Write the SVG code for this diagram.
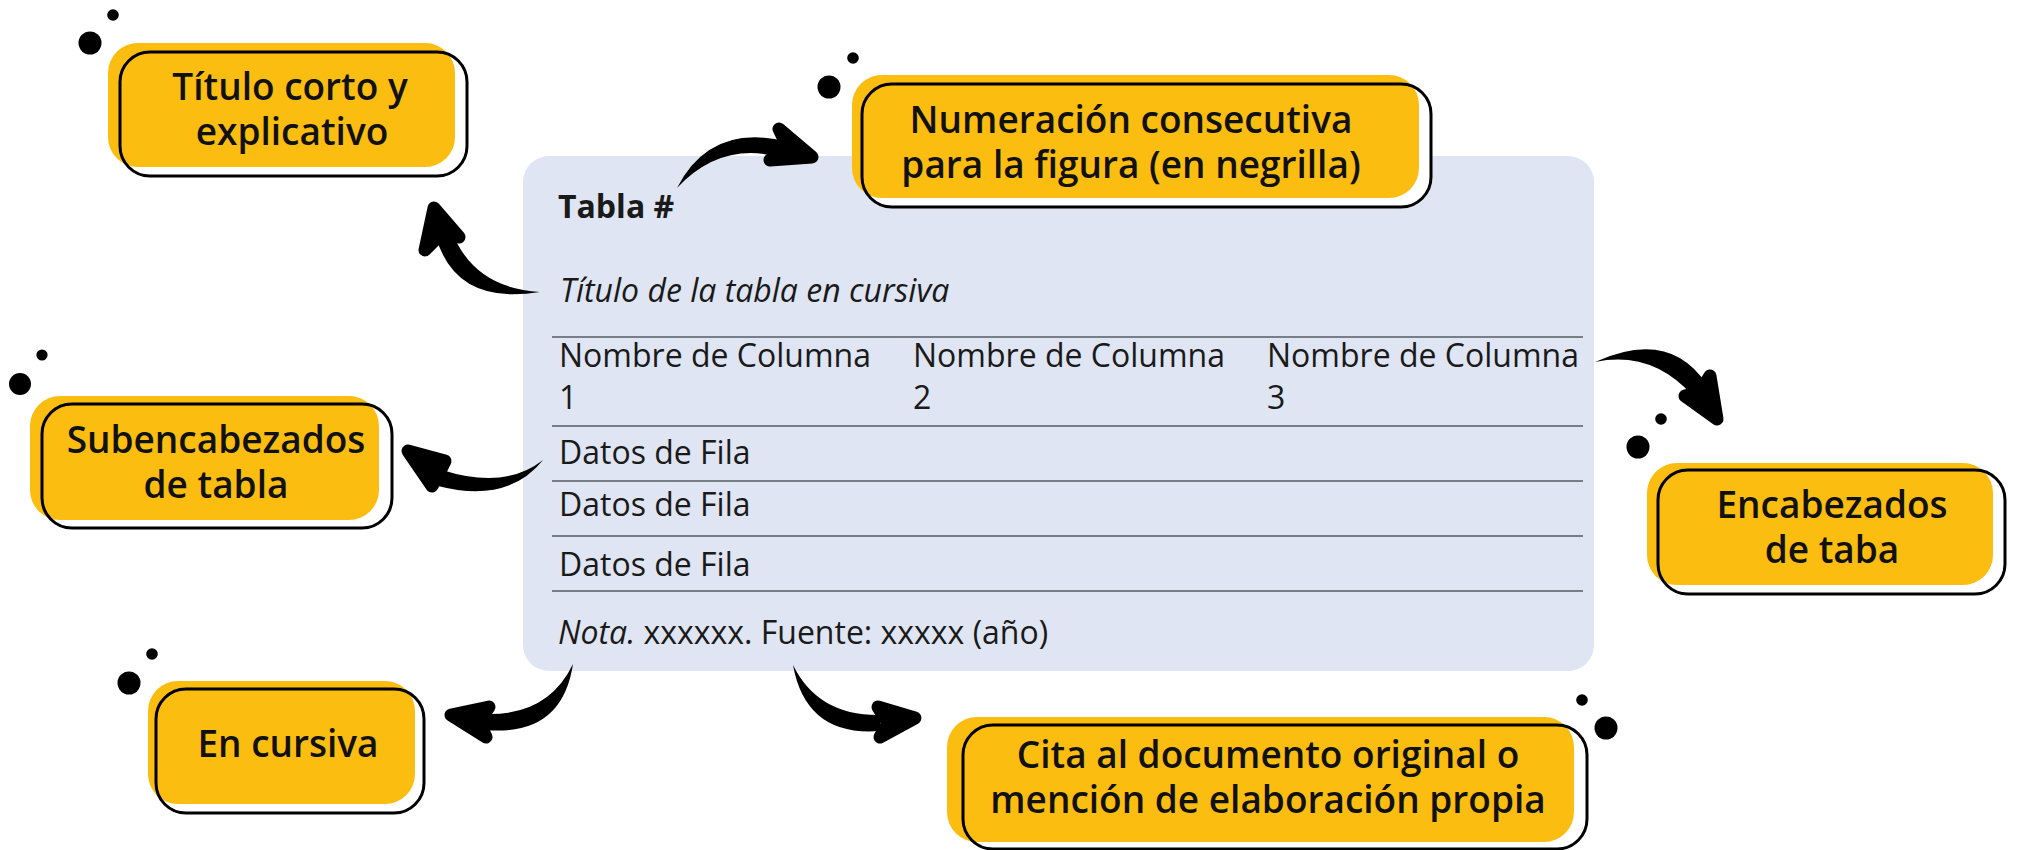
<svg xmlns="http://www.w3.org/2000/svg" width="2021" height="850" viewBox="0 0 2021 850">
<style>
.bg{fill:#ffffff}
.yb{fill:#FBBD0F}
.wb{fill:#ffffff}
.ol{fill:none;stroke:#000;stroke-width:3}
.dot{fill:#000}
.bt{font-family:"Open Sans","Liberation Sans",sans-serif;font-weight:600;font-size:37px;fill:#111;text-anchor:middle}
.tt{font-family:"Open Sans","Liberation Sans",sans-serif;font-size:32px;fill:#1a1a1a}
.ln{stroke:#555b63;stroke-width:1.6}
.sh{fill:#000}
.hd{fill:#000;stroke:#000;stroke-width:13;stroke-linejoin:round}
</style>
<rect class="bg" x="0" y="0" width="2021" height="850"/>

<g id="table">
  <rect x="523" y="156" width="1071" height="515" rx="26" fill="#DFE5F2"/>
  <text class="tt" x="558" y="218" font-weight="700" font-size="30">Tabla #</text>
  <text class="tt" x="560" y="302" font-style="italic" font-size="31.6">Título de la tabla en cursiva</text>
  <line class="ln" x1="552" y1="337" x2="1583" y2="337"/>
  <text class="tt" x="559" y="367">Nombre de Columna</text>
  <text class="tt" x="913" y="367">Nombre de Columna</text>
  <text class="tt" x="1267" y="367">Nombre de Columna</text>
  <text class="tt" x="559" y="409">1</text>
  <text class="tt" x="913" y="409">2</text>
  <text class="tt" x="1267" y="409">3</text>
  <line class="ln" x1="552" y1="426" x2="1583" y2="426"/>
  <text class="tt" x="559" y="464">Datos de Fila</text>
  <line class="ln" x1="552" y1="481" x2="1583" y2="481"/>
  <text class="tt" x="559" y="516">Datos de Fila</text>
  <line class="ln" x1="552" y1="536" x2="1583" y2="536"/>
  <text class="tt" x="559" y="576">Datos de Fila</text>
  <line class="ln" x1="552" y1="591" x2="1583" y2="591"/>
  <text class="tt" x="558" y="644"><tspan font-style="italic">Nota.</tspan> xxxxxx. Fuente: xxxxx (año)</text>
</g>

<g id="node-titulo-corto">
  <circle class="dot" cx="90" cy="43" r="11.5"/>
  <circle class="dot" cx="113" cy="15" r="5.8"/>
  <rect class="wb" x="120" y="52" width="347" height="124" rx="30"/>
  <rect class="yb" x="108" y="43" width="347" height="124" rx="30"/>
  <rect class="ol" x="120" y="52" width="347" height="124" rx="30"/>
  <text class="bt" y="100"><tspan x="290">Título corto y</tspan><tspan x="292" dy="45">explicativo</tspan></text>
</g>

<g id="node-numeracion">
  <circle class="dot" cx="829" cy="87" r="11.5"/>
  <circle class="dot" cx="853" cy="58" r="5.8"/>
  <rect class="wb" x="862" y="84" width="569" height="123" rx="30"/>
  <rect class="yb" x="852" y="75" width="567" height="123" rx="30"/>
  <rect class="ol" x="862" y="84" width="569" height="123" rx="30"/>
  <text class="bt" y="133"><tspan x="1131">Numeración consecutiva</tspan><tspan x="1131" dy="45">para la figura (en negrilla)</tspan></text>
</g>

<g id="node-subencabezados">
  <circle class="dot" cx="20" cy="384" r="11"/>
  <circle class="dot" cx="42" cy="355" r="5.6"/>
  <rect class="wb" x="42" y="404" width="350" height="124" rx="30"/>
  <rect class="yb" x="30" y="396" width="349" height="124" rx="30"/>
  <rect class="ol" x="42" y="404" width="350" height="124" rx="30"/>
  <text class="bt" y="453"><tspan x="216">Subencabezados</tspan><tspan x="216" dy="45">de tabla</tspan></text>
</g>

<g id="node-encabezados">
  <circle class="dot" cx="1638" cy="447" r="11.5"/>
  <circle class="dot" cx="1661" cy="419" r="5.8"/>
  <rect class="wb" x="1658" y="470" width="347" height="124" rx="30"/>
  <rect class="yb" x="1647" y="463" width="346" height="122" rx="30"/>
  <rect class="ol" x="1658" y="470" width="347" height="124" rx="30"/>
  <text class="bt" y="518"><tspan x="1832">Encabezados</tspan><tspan x="1832" dy="45">de taba</tspan></text>
</g>

<g id="node-en-cursiva">
  <circle class="dot" cx="129" cy="683" r="11.5"/>
  <circle class="dot" cx="152" cy="654" r="5.8"/>
  <rect class="wb" x="156" y="689" width="268" height="124" rx="30"/>
  <rect class="yb" x="148" y="681" width="267" height="123" rx="30"/>
  <rect class="ol" x="156" y="689" width="268" height="124" rx="30"/>
  <text class="bt" x="288" y="757">En cursiva</text>
</g>

<g id="node-cita">
  <circle class="dot" cx="1582" cy="700" r="5.8"/>
  <circle class="dot" cx="1606" cy="728" r="11.5"/>
  <rect class="wb" x="963" y="725" width="624" height="124" rx="30"/>
  <rect class="yb" x="947" y="717" width="627" height="125" rx="30"/>
  <rect class="ol" x="963" y="725" width="624" height="124" rx="30"/>
  <text class="bt" y="768"><tspan x="1268">Cita al documento original o</tspan><tspan x="1268" dy="45">mención de elaboración propia</tspan></text>
</g>

<g id="connectors">
  <!-- Tabla # -> Numeracion -->
  <path class="sh" d="M677,188 Q711,122 788,142 L783,158 Q722,140 677,188 Z"/>
  <path class="hd" d="M812,157 L779,129 L789,150 L770,160 Z"/>
  <!-- Titulo tabla -> Titulo corto -->
  <path class="sh" d="M540,292 Q456,306 436,237 L452,232 Q474,288 540,292 Z"/>
  <path class="hd" d="M434,208 L459,237 L444,231 L425,250 Z"/>
  <!-- Datos -> Subencabezados -->
  <path class="sh" d="M543,460 Q508,504 438,486 L442,470 Q505,490 543,460 Z"/>
  <path class="hd" d="M408,451 L445,461 L438,475 L432,486 Z"/>
  <!-- Nota -> En cursiva -->
  <path class="sh" d="M573,664 Q562,737 485,730 L485,714 Q548,716 573,664 Z"/>
  <path class="hd" d="M451,715 L489,707 L479,722 L486,737 Z"/>
  <!-- Fuente -> Cita -->
  <path class="sh" d="M793,665 Q806,737 880,731 L880,715 Q818,716 793,665 Z"/>
  <path class="hd" d="M915,718 L878,707 L888,723 L880,737 Z"/>
  <!-- Columna 3 -> Encabezados -->
  <path class="sh" d="M1595,362 Q1670,328 1707,385 L1693,396 Q1652,350 1595,362 Z"/>
  <path class="hd" d="M1717,419 L1710,376 L1700,392 L1685,396 Z"/>
</g>
</svg>
